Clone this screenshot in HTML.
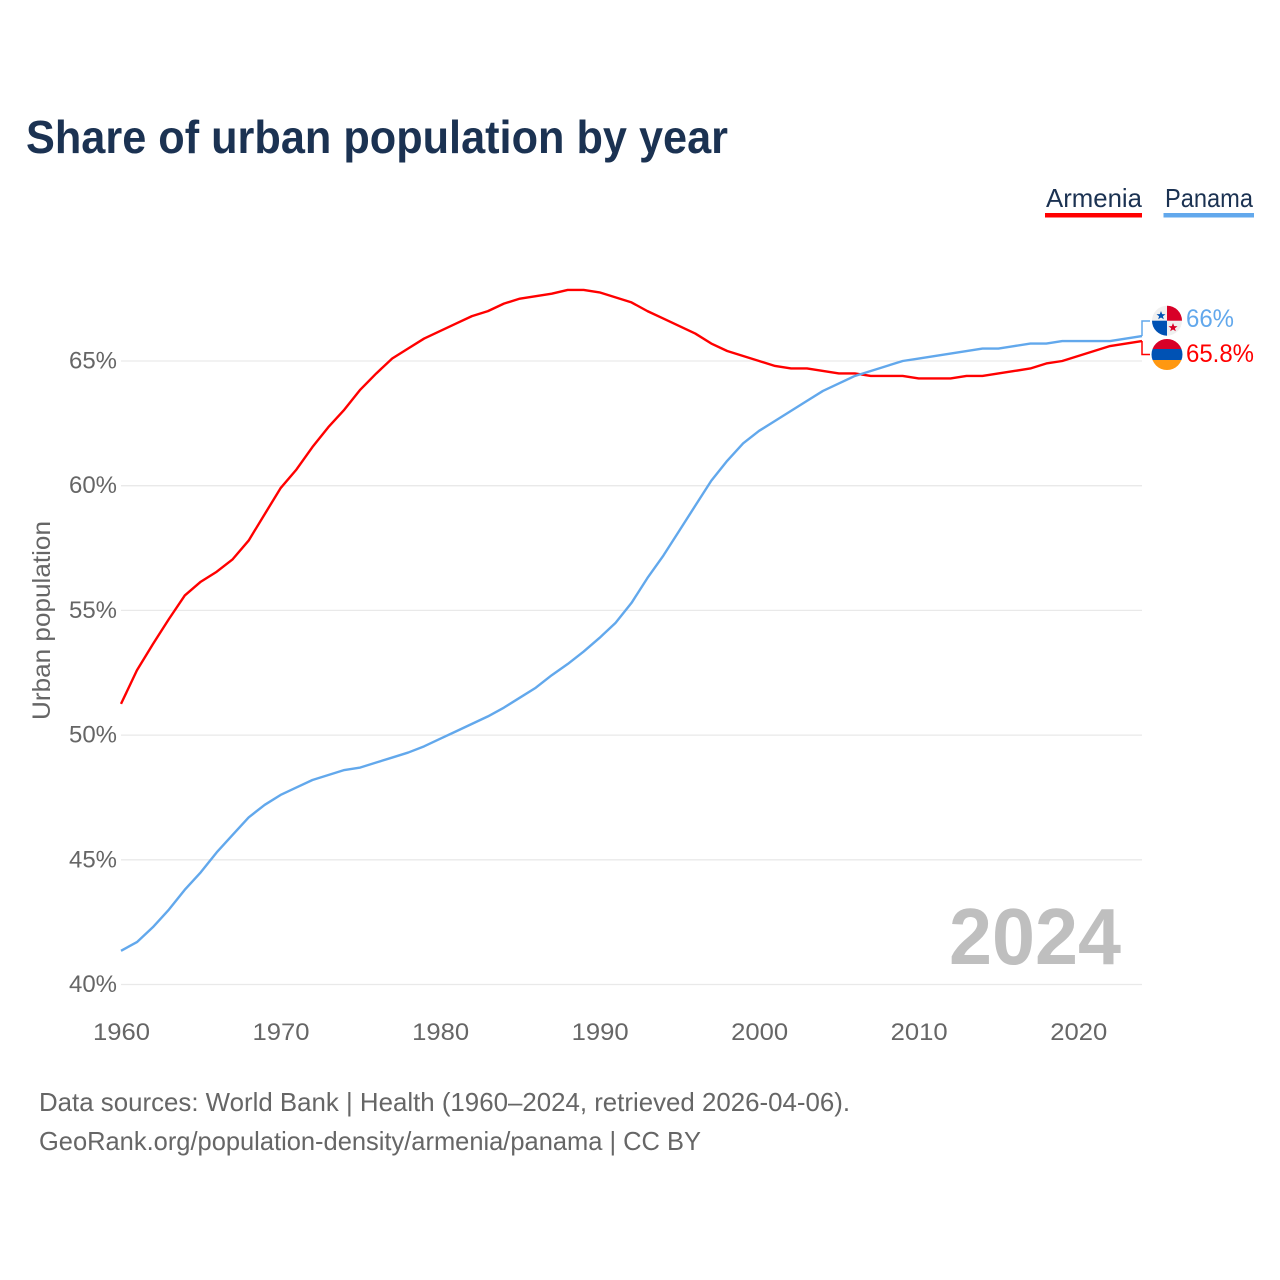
<!DOCTYPE html>
<html lang="en">
<head>
<meta charset="utf-8">
<title>Share of urban population by year</title>
<style>
html,body{margin:0;padding:0;background:#fff;width:1280px;height:1280px;overflow:hidden}
svg{display:block;font-family:"Liberation Sans",sans-serif}
</style>
</head>
<body>
<svg id="chart" xmlns="http://www.w3.org/2000/svg" width="1280" height="1280" viewBox="0 0 1280 1280">
  <rect width="1280" height="1280" fill="#fff"/>
  <text x="26" y="153" font-size="46" font-weight="700" fill="#1b3252" textLength="702" lengthAdjust="spacingAndGlyphs">Share of urban population by year</text>

  <g>
    <text x="1046" y="207" font-size="26" fill="#1b3252" textLength="96" lengthAdjust="spacingAndGlyphs">Armenia</text>
    <rect x="1045" y="213" width="97" height="4.5" fill="#ff0000"/>
  </g>
  <g>
    <text x="1165" y="207" font-size="26" fill="#1b3252" textLength="88" lengthAdjust="spacingAndGlyphs">Panama</text>
    <rect x="1163.500" y="213" width="90.500" height="4.5" fill="#62a8ec"/>
  </g>

  <g id="grid"></g>
  <g id="yticks"></g>
  <g id="xticks"></g>
  <text transform="translate(50,720) rotate(-90)" font-size="25" fill="#666666" textLength="199" lengthAdjust="spacingAndGlyphs">Urban population</text>

  <text x="949" y="964" font-size="80" font-weight="700" fill="#bfbfbf" textLength="172" lengthAdjust="spacingAndGlyphs">2024</text>

  <g id="series"></g>

  <g>
    <path id="conn-pa" fill="none" stroke="#62a8ec" stroke-width="1.500"/>
    <g>
      <clipPath id="clip-pa"><circle cx="1167" cy="320.700" r="15"/></clipPath>
      <g clip-path="url(#clip-pa)">
        <rect x="1152" y="305" width="30" height="32" fill="#f0f0f0"/>
        <rect x="1167" y="305" width="15" height="15.700" fill="#d80027"/>
        <rect x="1152" y="320.700" width="15" height="16" fill="#0052b4"/>
      </g>
      <polygon points="1161,311 1162.200,314.100 1165.500,314.200 1162.900,316.200 1163.800,319.300 1161,317.500 1158.200,319.300 1159.100,316.200 1156.500,314.200 1159.800,314.100" fill="#0052b4"/>
      <polygon points="1173,323 1174.200,326.100 1177.500,326.200 1174.900,328.200 1175.800,331.300 1173,329.500 1170.200,331.300 1171.100,328.200 1168.500,326.200 1171.800,326.100" fill="#d80027"/>
    </g>
    <text x="1186" y="327" font-size="25" fill="#62a8ec" textLength="48" lengthAdjust="spacingAndGlyphs">66%</text>
  </g>
  <g>
    <path id="conn-am" fill="none" stroke="#ff0000" stroke-width="1.500"/>
    <g>
      <clipPath id="clip-am"><circle cx="1167" cy="354.500" r="15.500"/></clipPath>
      <g clip-path="url(#clip-am)">
        <rect x="1151" y="339" width="32" height="10" fill="#d80027"/>
        <rect x="1151" y="349" width="32" height="11" fill="#0052b4"/>
        <rect x="1151" y="360" width="32" height="11" fill="#ff9811"/>
      </g>
    </g>
    <text x="1186" y="362" font-size="25" fill="#ff0000" textLength="68" lengthAdjust="spacingAndGlyphs">65.8%</text>
  </g>

  <text x="39" y="1111" font-size="26" fill="#666666" textLength="811" lengthAdjust="spacingAndGlyphs">Data sources: World Bank | Health (1960–2024, retrieved 2026-04-06).</text>
  <text x="39" y="1150" font-size="26" fill="#666666" textLength="662" lengthAdjust="spacingAndGlyphs">GeoRank.org/population-density/armenia/panama | CC BY</text>
</svg>
<script>
const startYear = 1960;
const yTickValues = [40, 45, 50, 55, 60, 65];
const xTickValues = [1960, 1970, 1980, 1990, 2000, 2010, 2020];
const armeniaValues = [51.25,52.6,53.65,54.65,55.6,56.15,56.55,57.05,57.8,58.85,59.9,60.65,61.55,62.35,63.05,63.85,64.5,65.1,65.5,65.9,66.2,66.5,66.8,67.0,67.3,67.5,67.6,67.7,67.85,67.85,67.75,67.55,67.35,67.0,66.7,66.4,66.1,65.7,65.4,65.2,65.0,64.8,64.7,64.7,64.6,64.5,64.5,64.4,64.4,64.4,64.3,64.3,64.3,64.4,64.4,64.5,64.6,64.7,64.9,65.0,65.2,65.4,65.6,65.7,65.8];
const panamaValues = [41.35,41.7,42.3,43.0,43.8,44.5,45.3,46.0,46.7,47.2,47.6,47.9,48.2,48.4,48.6,48.7,48.9,49.1,49.3,49.55,49.85,50.15,50.45,50.75,51.1,51.5,51.9,52.4,52.85,53.35,53.9,54.5,55.3,56.3,57.2,58.2,59.2,60.2,61.0,61.7,62.2,62.6,63.0,63.4,63.8,64.1,64.4,64.6,64.8,65.0,65.1,65.2,65.3,65.4,65.5,65.5,65.6,65.7,65.7,65.8,65.8,65.8,65.8,65.9,66.0];

const NS = 'http://www.w3.org/2000/svg';
const xScale = year => 121 + (year - 1960) * (1142 - 121) / 64;
const yScale = pct => 984.5 - (pct - 40) * (984.5 - 361) / 25;

const make = (tag, parent, attrs) => {
  const el = document.createElementNS(NS, tag);
  Object.keys(attrs).forEach(k => el.setAttribute(k, attrs[k]));
  parent.appendChild(el);
  return el;
};

const grid = document.getElementById('grid');
const yticks = document.getElementById('yticks');
yTickValues.forEach(v => {
  const line = make('line', grid, {x1: 121, x2: 1142, y1: yScale(v), y2: yScale(v), stroke: '#e9e9e9', 'stroke-width': 1.3});
  
  
  const label = make('text', yticks, {x: 117, y: yScale(v) + 7.500, 'text-anchor': 'end', 'font-size': 24, fill: '#666666', textLength: 48, lengthAdjust: 'spacingAndGlyphs'});
  
  
  label.textContent = v + '%';
});

const xticks = document.getElementById('xticks');
xTickValues.forEach(v => {
  const label = make('text', xticks, {x: xScale(v) + 0.500, y: 1040, 'text-anchor': 'middle', 'font-size': 24, fill: '#666666', textLength: 57, lengthAdjust: 'spacingAndGlyphs'});
  
  
  label.textContent = v;
});

const toPath = values => values.map((v, i) => (i ? 'L' : 'M') + xScale(startYear + i).toFixed(2) + ' ' + yScale(v).toFixed(2)).join(' ');
const series = document.getElementById('series');

const armeniaLine = make('path', series, {d: toPath(armeniaValues), fill: 'none', stroke: '#ff0000', 'stroke-width': 2.400, 'stroke-linejoin': 'round'});



const panamaLine = make('path', series, {d: toPath(panamaValues), fill: 'none', stroke: '#62a8ec', 'stroke-width': 2.400, 'stroke-linejoin': 'round'});



const lastX = xScale(startYear + panamaValues.length - 1);
document.getElementById('conn-pa').setAttribute('d', 'M' + lastX + ' ' + yScale(panamaValues[panamaValues.length - 1]) + ' V321 H1150');
document.getElementById('conn-am').setAttribute('d', 'M' + lastX + ' ' + yScale(armeniaValues[armeniaValues.length - 1]) + ' V354.500 H1150');
</script>
</body>
</html>
